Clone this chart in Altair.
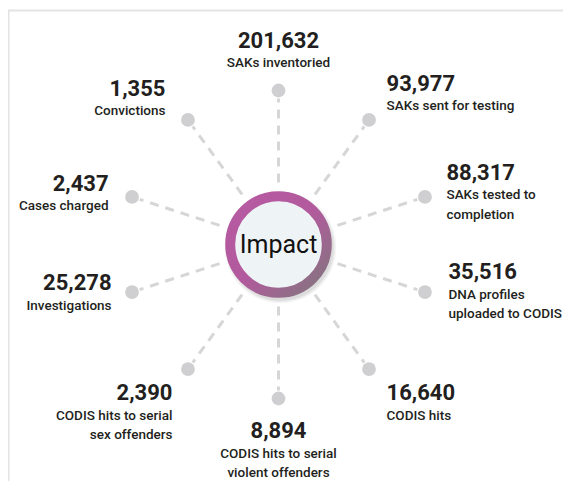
import altair as alt
import pandas as pd
import numpy as np

# ---- data ----
numbers = ["201,632", "93,977", "88,317", "35,516", "16,640",
           "8,894", "2,390", "25,278", "2,437", "1,355"]
descriptions = ["SAKs inventoried", "SAKs sent for testing",
                "SAKs tested to\ncompletion", "DNA profiles\nuploaded to CODIS",
                "CODIS hits", "CODIS hits to serial\nviolent offenders",
                "CODIS hits to serial\nsex offenders", "Investigations",
                "Cases charged", "Convictions"]
angles_deg = [90, 54, 18, -18, -54, -90, -126, -162, 162, 126]
center_label = ["Impact"]

# ---- layout ----
W, H = 555, 473
CX, CY = 270.5, 236.5
R_DOT, R_START, R_END = 154, 62, 146
aligns = ["center", "left", "left", "left", "left",
          "center", "right", "right", "right", "right"]
label_dx = [0, 17.5, 21.5, 23.5, 17.5, 0, -15.5, -20.5, -23.5, -22.5]
label_dy = [-50, -36.4, -24.4, -19.6, 24.4, 32.5, 24.4, -8.6, -13.4, -31.4]

FONT = "Roboto"
INK = "#231f20"

a = np.radians(angles_deg)
df = pd.DataFrame({
    "num": numbers,
    "desc": descriptions,
    "align": aligns,
    "dx": np.cos(a),
    "dy": -np.sin(a),
})
df["xd"] = CX + R_DOT * df["dx"]
df["yd"] = CY + R_DOT * df["dy"]
df["x0"] = CX + R_START * df["dx"]
df["y0"] = CY + R_START * df["dy"]
df["x1"] = CX + R_END * df["dx"]
df["y1"] = CY + R_END * df["dy"]
df["xl"] = df["xd"] + np.array(label_dx)
df["yl"] = df["yd"] + np.array(label_dy)
df["yb"] = df["yl"] + 26.5

cdf = pd.DataFrame({"t": center_label, "x": [CX], "y": [CY]})

xs = alt.Scale(domain=[0, W], range=[0, W])
ys = alt.Scale(domain=[0, H], range=[0, H])
X = lambda f: alt.X(f, type="quantitative", scale=xs, axis=None)
Y = lambda f: alt.Y(f, type="quantitative", scale=ys, axis=None)

base = alt.Chart(df)

frame_top = alt.Chart(cdf).mark_rule(color="#e4e4e4", strokeWidth=2).encode(
    x=alt.value(0), x2=alt.value(W), y=alt.value(2.5))
frame_left = alt.Chart(cdf).mark_rule(color="#e4e4e4", strokeWidth=2).encode(
    x=alt.value(0.5), y=alt.value(2), y2=alt.value(H))

spokes = base.mark_rule(color="#d6d6d6", strokeWidth=3, strokeDash=[9, 7]).encode(
    x=X("x0"), y=Y("y0"), x2="x1", y2="y1")

dots = base.mark_circle(size=190, color="#cfcfd1", opacity=1).encode(
    x=X("xd"), y=Y("yd"))

shadows = []
for rr, op in [(63, 0.05), (61.5, 0.07), (60, 0.09)]:
    shadows.append(alt.Chart(cdf).mark_circle(size=np.pi * rr * rr, color="#555555", opacity=op)
                   .encode(x=X("x"), y=Y("y")).transform_calculate(x="datum.x + 2", y="datum.y + 3"))

grad = alt.LinearGradient(
    gradient="linear", x1=0, y1=0, x2=1, y2=1,
    stops=[alt.GradientStop(color="#b75aa2", offset=0),
           alt.GradientStop(color="#b25a9d", offset=0.5),
           alt.GradientStop(color="#8a7183", offset=0.9),
           alt.GradientStop(color="#86727f", offset=1)])

ring = alt.Chart(cdf).mark_point(
    shape="circle", size=np.pi * 54.5 * 54.5, filled=False,
    fill="#eef3f6", fillOpacity=1, stroke=grad, strokeWidth=10, opacity=1
).encode(x=X("x"), y=Y("y"))

center_text = alt.Chart(cdf).mark_text(
    font=FONT, fontSize=25, color="#111111", baseline="middle", align="center"
).encode(x=X("x"), y=Y("y"), text="t:N")

layers = [frame_top, frame_left, spokes, dots] + shadows + [ring, center_text]

for al in ["left", "center", "right"]:
    sub = base.transform_filter(alt.datum.align == al)
    layers.append(sub.mark_text(font=FONT, fontSize=22, fontWeight="bold", color=INK,
                                align=al, baseline="middle")
                  .encode(x=X("xl"), y=Y("yl"), text="num:N"))
    layers.append(sub.mark_text(font=FONT, fontSize=13.5, fontWeight=500, color=INK,
                                align=al, baseline="alphabetic", lineBreak="\n", lineHeight=19.5)
                  .encode(x=X("xl"), y=Y("yb"), text="desc:N"))

chart = alt.layer(*layers).properties(
    width=W, height=H, padding=0, autosize=alt.AutoSizeParams(type="none")
).configure_view(stroke=None)

chart.save("out.html", embed_options={"renderer": "svg", "actions": False})
